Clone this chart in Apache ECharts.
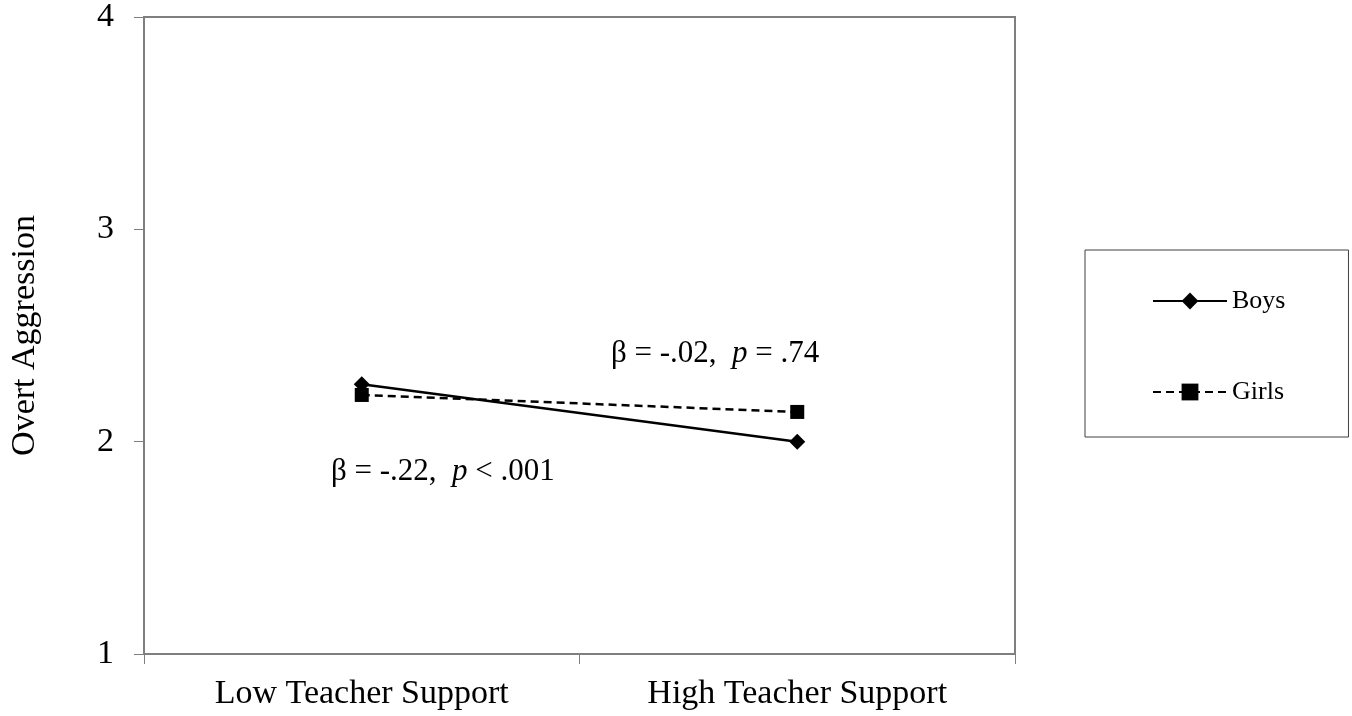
<!DOCTYPE html>
<html><head><meta charset="utf-8">
<script src="https://cdn.jsdelivr.net/npm/echarts@6/dist/echarts.min.js"></script>
<style>html,body{margin:0;padding:0;background:#fff}#c{width:1352px;height:716px}</style>
</head><body><div id="c"></div>
<script>
var categories = ['Low Teacher Support', 'High Teacher Support'];
var boys = [2.27, 2.00];
var girls = [2.22, 2.14];
var yTicks = [1, 2, 3, 4];
var annotations = [
  {beta: '-.02', p: '= .74'},
  {beta: '-.22', p: '< .001'}
];

var F = '"Liberation Serif", "Times New Roman", serif';
var chart = echarts.init(document.getElementById('c'));
var rich = {a: {fontFamily: F, fontSize: 31, fill: '#000'}, i: {fontFamily: F, fontSize: 31, fontStyle: 'italic', fill: '#000'}};
chart.setOption({
  backgroundColor: '#fff',
  animation: false,
  grid: {left: 144, right: 337, top: 17, bottom: 62, show: true, borderColor: '#7f7f7f', borderWidth: 2, backgroundColor: 'transparent'},
  xAxis: {
    type: 'category', data: categories, boundaryGap: true,
    axisLine: {lineStyle: {color: '#7f7f7f', width: 2}},
    axisTick: {show: true, length: 10, alignWithLabel: false, lineStyle: {color: '#7f7f7f', width: 1}},
    axisLabel: {color: '#000', fontFamily: F, fontSize: 34, margin: 23}
  },
  yAxis: {
    type: 'value', min: yTicks[0], max: yTicks[yTicks.length - 1], interval: 1,
    name: 'Overt Aggression', nameLocation: 'middle', nameGap: 102,
    nameTextStyle: {color: '#000', fontFamily: F, fontSize: 34},
    splitLine: {show: false},
    axisLine: {show: true, lineStyle: {color: '#7f7f7f', width: 2}},
    axisTick: {show: true, length: 10, lineStyle: {color: '#7f7f7f', width: 1}},
    axisLabel: {color: '#000', fontFamily: F, fontSize: 34, margin: 30}
  },
  legend: {
    orient: 'vertical', left: 1085, top: 250,
    padding: [36, 63, 30, 67], itemGap: 61, itemWidth: 74, itemHeight: 21,
    borderColor: '#404040', borderWidth: 1,
    textStyle: {color: '#000', fontFamily: F, fontSize: 26, lineHeight: 30},
    data: ['Boys', 'Girls']
  },
  series: [
    {name: 'Boys', type: 'line', data: boys, symbol: 'diamond', symbolSize: 16,
     lineStyle: {color: '#000', width: 2.5, type: 'solid'}, itemStyle: {color: '#000'}, z: 3},
    {name: 'Girls', type: 'line', data: girls, symbol: 'rect', symbolSize: 14,
     lineStyle: {color: '#000', width: 2.5, type: [8, 5]}, itemStyle: {color: '#000'}, z: 2}
  ],
  graphic: [
    {type: 'text', left: 611, top: 338, style: {
      text: '{a|β = ' + annotations[0].beta + ',  }{i|p}{a| ' + annotations[0].p + '}', rich: rich
    }},
    {type: 'text', left: 331, top: 456, style: {
      text: '{a|β = ' + annotations[1].beta + ',  }{i|p}{a| ' + annotations[1].p + '}', rich: rich
    }}
  ]
});
</script></body></html>
